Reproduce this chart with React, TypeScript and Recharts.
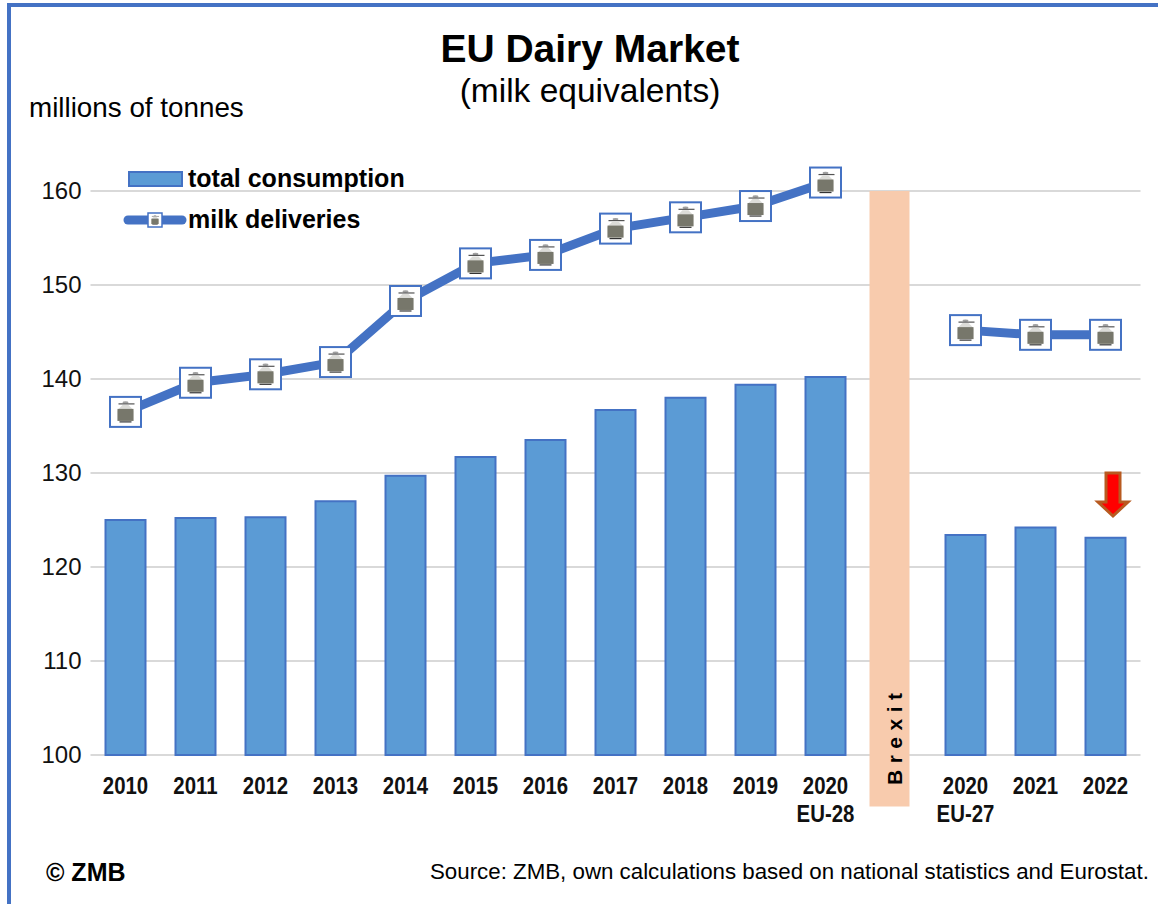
import React from "react";
import { ComposedChart, Bar, Line, XAxis, YAxis, CartesianGrid, Legend } from "recharts";

const categories = ["2010", "2011", "2012", "2013", "2014", "2015", "2016", "2017", "2018", "2019", "2020 EU-28", " ", "2020 EU-27", "2021", "2022"];
const consumption = [125, 125.2, 125.3, 127, 129.7, 131.7, 133.5, 136.7, 138, 139.4, 140.2, null, 123.4, 124.2, 123.1];
const deliveries = [136.5, 139.6, 140.5, 141.8, 148.3, 152.3, 153.2, 156, 157.2, 158.4, 160.9, null, 145.2, 144.7, 144.7];
const brexit = [null, null, null, null, null, null, null, null, null, null, null, 160, null, null, null];
const yTicks = [100, 110, 120, 130, 140, 150, 160];

const data = categories.map((name, i) => ({
  name,
  consumption: consumption[i],
  deliveries: deliveries[i],
  brexit: brexit[i],
}));

const BLUE = "#4472c4";
const SANS = "'Liberation Sans', Arial, sans-serif";

function MilkCan({ cx, cy, scale = 1 }: { cx: number; cy: number; scale?: number }) {
  return (
    <g transform={`translate(${cx},${cy}) scale(${scale})`}>
      <ellipse cx={0} cy={-9.5} rx={3} ry={1.2} fill="#a0a0a0" />
      <line x1={-7} x2={9} y1={-8} y2={-8} stroke="#555" strokeWidth={1.2} />
      <path d="M-3,-7 L3,-7 L7,-3 L8,-1 L8,9 L-8,9 L-8,-1 L-7,-3 Z" fill="#dcdcd8" />
      <rect x={-8} y={-3} width={16} height={12} fill="#77776b" />
      <line x1={-6} x2={6} y1={10} y2={10} stroke="#333" strokeWidth={1.2} />
    </g>
  );
}

function CanDot(props: any) {
  const { cx, cy, index, value } = props;
  if (value == null || cy == null) return <g key={index} />;
  return (
    <g key={index}>
      <rect x={cx - 15.5} y={cy - 15} width={31} height={30} fill="#fff" stroke={BLUE} strokeWidth={2} />
      <MilkCan cx={cx} cy={cy} />
    </g>
  );
}

function BrexitBar(props: any) {
  const { x, y, width, height } = props;
  if (height == null) return null;
  const bottom = y + height;
  // the band sits slightly left of its category in the original
  const left = x - 6;
  return (
    <g>
      <rect x={left} y={y} width={width} height={height + 51.5} fill="#f8cbad" />
      <text
        transform={`translate(${left + width / 2 + 12},${bottom + 30}) rotate(-90)`}
        fontFamily={SANS}
        fontSize={21}
        fontWeight={700}
        letterSpacing={6.5}
        fill="#000"
      >
        Brexit
      </text>
    </g>
  );
}

function YearTick(props: any) {
  const { x, y, payload } = props;
  const lines = String(payload.value).trim().split(" ");
  return (
    <g>
      {lines.map((t: string, i: number) => (
        <text
          key={i}
          transform={`translate(${x},${y + 31 + i * 28}) scale(0.85,1)`}
          textAnchor="middle"
          fontFamily={SANS}
          fontSize={24}
          fontWeight={700}
          fill="#111"
        >
          {t}
        </text>
      ))}
    </g>
  );
}

function LegendBox() {
  const rowStyle: React.CSSProperties = { position: "absolute", left: 64, fontFamily: SANS, fontSize: 25, fontWeight: 700, color: "#000", whiteSpace: "nowrap", lineHeight: "30px" };
  return (
    <div style={{ position: "relative", width: 300, height: 80 }}>
      <svg width={66} height={80} style={{ position: "absolute", left: 0, top: 0, overflow: "visible" }}>
        <rect x={5} y={7} width={53} height={14} fill="#5b9bd5" stroke={BLUE} strokeWidth={2} />
        <line x1={4} x2={58} y1={55} y2={55} stroke={BLUE} strokeWidth={9} strokeLinecap="round" />
        <rect x={24} y={48} width={14} height={14} fill="#fff" stroke={BLUE} strokeWidth={1.5} />
        <MilkCan cx={31} cy={55} scale={0.45} />
      </svg>
      <div style={{ ...rowStyle, top: -2 }}>total consumption</div>
      <div style={{ ...rowStyle, top: 39 }}>milk deliveries</div>
    </div>
  );
}

function Overlay({ left, top, style, children }: any) {
  return <div style={{ position: "absolute", left, top, fontFamily: SANS, color: "#000", whiteSpace: "nowrap", ...style }}>{children}</div>;
}

export default function App() {
  return (
    <div style={{ position: "absolute", left: 0, top: 0, width: 1158, height: 904, background: "#fff", overflow: "hidden" }}>
      {/* frame: top and left edges only */}
      <div style={{ position: "absolute", left: 7, top: 3, width: 1151, height: 4, background: BLUE }} />
      <div style={{ position: "absolute", left: 7, top: 3, width: 4, height: 901, background: BLUE }} />

      <div style={{ position: "absolute", left: 0, top: 0 }}>
        <ComposedChart width={1158} height={904} data={data} margin={{ top: 97, right: 17.5, bottom: 0, left: 0.5 }} barGap={-40} barSize={40}>
          <CartesianGrid vertical={false} stroke="#d9d9d9" strokeWidth={2} syncWithTicks />
          <XAxis dataKey="name" interval={0} tickLine={false} axisLine={false} tick={<YearTick />} height={149} />
          <YAxis
            width={90}
            domain={[100, 170]}
            ticks={yTicks}
            tickLine={false}
            axisLine={false}
            tickMargin={3}
            tick={{ fill: "#111", fontSize: 24, fontFamily: SANS, dy: -1 }}
          />
          <Legend
            layout="vertical"
            align="center"
            verticalAlign="middle"
            content={<LegendBox />}
            wrapperStyle={{ left: 124, top: 165, width: 300, height: 80 }}
          />
          <Bar dataKey="consumption" name="total consumption" fill="#5b9bd5" stroke={BLUE} strokeWidth={2} isAnimationActive={false} />
          <Bar dataKey="brexit" legendType="none" shape={<BrexitBar />} isAnimationActive={false} />
          <Line dataKey="deliveries" name="milk deliveries" stroke={BLUE} strokeWidth={9} dot={CanDot} activeDot={false} connectNulls={false} isAnimationActive={false} type="linear" />
        </ComposedChart>
      </div>

      {/* red arrow over the 2022 bar */}
      <svg width={40} height={52} style={{ position: "absolute", left: 1093, top: 469 }}>
        <polygon points="13,4 27,4 27,33 35,33 20,47 5,33 13,33" fill="#ff0000" stroke="#b85a20" strokeWidth={3} />
      </svg>

      <Overlay left={0} top={27} style={{ width: 1180, textAlign: "center", fontSize: 39, fontWeight: 700, lineHeight: "44px" }}>EU Dairy Market</Overlay>
      <Overlay left={0} top={72} style={{ width: 1180, textAlign: "center", fontSize: 33.5, lineHeight: "38px" }}>(milk equivalents)</Overlay>
      <Overlay left={29} top={92} style={{ fontSize: 27.8, lineHeight: "32px" }}>millions of tonnes</Overlay>
      <Overlay left={46} top={858} style={{ fontSize: 25, fontWeight: 700, lineHeight: "28px" }}>© ZMB</Overlay>
      <Overlay left={430} top={858} style={{ fontSize: 22.3, lineHeight: "28px" }}>Source: ZMB, own calculations based on national statistics and Eurostat.</Overlay>
    </div>
  );
}
